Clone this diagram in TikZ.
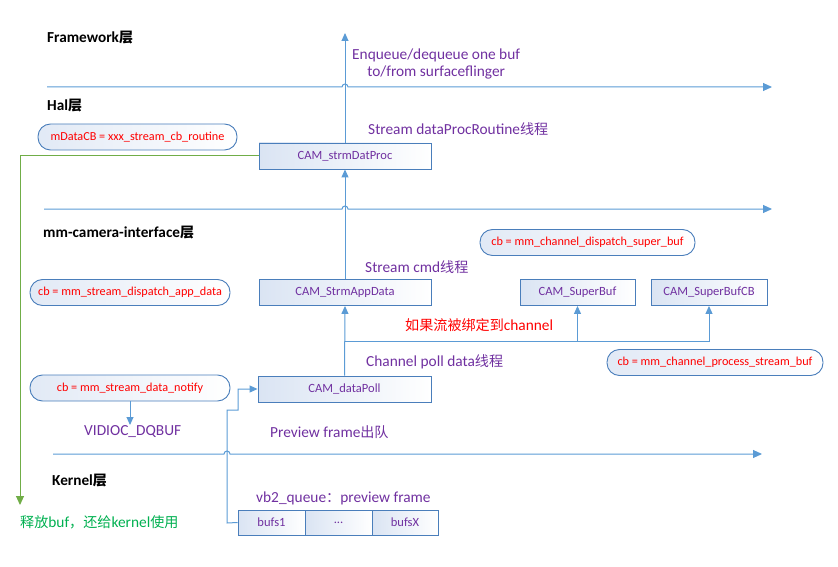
\documentclass[tikz,border=0pt]{standalone}
\usepackage{fontspec}
\setmainfont{Carlito}[Scale=1.09]
\newfontfamily\cjk{Noto Sans CJK SC}
\usetikzlibrary{arrows.meta}
\definecolor{boxblue}{RGB}{74,126,187}
\definecolor{arrowblue}{RGB}{91,155,213}
\definecolor{txtpurple}{RGB}{112,48,160}
\definecolor{lgreen}{RGB}{112,173,71}
\definecolor{tgreen}{RGB}{0,176,80}
\definecolor{shadeblue}{RGB}{218,228,243}
\tikzset{
  boxnode/.style={draw=boxblue, line width=0.9pt, left color=shadeblue, right color=white,
    minimum height=26pt, inner sep=0pt, text=txtpurple, font=\fontsize{11.5}{13}\selectfont},
  pill/.style={draw=boxblue, line width=0.9pt, left color=shadeblue!80, right color=white,
    rounded corners=12.5pt, minimum height=26pt, inner sep=0pt, text=red, font=\fontsize{11.2}{13}\selectfont},
  lbl/.style={anchor=west, inner sep=0pt, text=txtpurple, font=\fontsize{14.1}{17.5}\selectfont, align=center},
  layertitle/.style={anchor=west, inner sep=0pt, font=\bfseries\fontsize{14}{17}\selectfont},
  layerline/.style={draw=arrowblue, line width=1pt, -{Triangle[length=9pt,width=8pt]}},
  conn/.style={draw=arrowblue, line width=1pt, -{Triangle[length=8pt,width=7pt]}},
  plain/.style={draw=arrowblue, line width=1pt},
}
\begin{document}
\begin{tikzpicture}[x=1pt,y=-1pt]
\useasboundingbox (0,0) rectangle (838,567);

% layer titles
\node[layertitle] (fw) at (47,38) {Framework{\cjk 层}};
\node[layertitle] (hal) at (47,106) {Hal{\cjk 层}};
\node[layertitle] (mmci) at (43,233) {mm-camera-interface{\cjk 层}};
\node[layertitle] (kern) at (52,481) {Kernel{\cjk 层}};

% layer lines with hops
\draw[layerline] (47,87) -- (342,87) arc[start angle=180,end angle=0,radius=3pt] -- (772,87);
\draw[layerline] (44,209) -- (342,209) arc[start angle=180,end angle=0,radius=3pt] -- (772,209);
\draw[layerline] (53,454) -- (224,454) arc[start angle=180,end angle=0,radius=3pt] -- (762,454);

% boxes
\node[boxnode, minimum width=172pt] (dp) at (345,156) {CAM\_strmDatProc};
\node[boxnode, minimum width=172pt] (sad) at (345,292.5) {CAM\_StrmAppData};
\node[boxnode, minimum width=115pt] (sb) at (577.5,292.5) {CAM\_SuperBuf};
\node[boxnode, minimum width=116pt] (sbcb) at (709,292.5) {CAM\_SuperBufCB};
\node[boxnode, minimum width=173pt] (poll) at (344.5,389) {CAM\_dataPoll};
\node[boxnode, minimum width=67pt, minimum height=25pt] (b1) at (271.5,522.5) {bufs1};
\node[boxnode, minimum width=67pt, minimum height=25pt] (b2) at (338.5,522.5) {...};
\node[boxnode, minimum width=66pt, minimum height=25pt] (b3) at (405,522.5) {bufsX};

% pills
\node[pill, minimum width=199pt] (p1) at (137.5,137) {mDataCB = xxx\_stream\_cb\_routine};
\node[pill, minimum width=215pt] (p2) at (587.5,242.5) {cb = mm\_channel\_dispatch\_super\_buf};
\node[pill, minimum width=200pt] (p3) at (130,292.5) {cb = mm\_stream\_dispatch\_app\_data};
\node[pill, minimum width=216pt] (p4) at (715,362.5) {cb = mm\_channel\_process\_stream\_buf};
\node[pill, minimum width=200pt] (p5) at (130,388) {cb = mm\_stream\_data\_notify};

% labels
\node[lbl] (enq) at (352,64) {Enqueue/dequeue one buf\\to/from surfaceflinger};
\node[lbl] (sdp) at (368,129) {Stream dataProcRoutine{\cjk 线程}};
\node[lbl] (scmd) at (365,267) {Stream cmd{\cjk 线程}};
\node[lbl, text=red] (bind) at (405,325) {{\cjk 如果流被绑定到}channel};
\node[lbl] (cpoll) at (366,362) {Channel poll data{\cjk 线程}};
\node[lbl] (dq) at (84,432) {VIDIOC\_DQBUF};
\node[lbl] (pf) at (270,432) {Preview frame{\cjk 出队}};
\node[lbl] (vb2) at (256,498) {vb2\_queue{\cjk ：}preview frame};
\node[lbl, text=tgreen] (rel) at (20,522) {{\cjk 释放}buf{\cjk ，还给}kernel{\cjk 使用}};

% connectors
\coordinate (top) at (345,33);
\draw[conn] (dp.north) -- (top);
\draw[conn] (sad.north) -- (dp.south);
\draw[conn] (poll.north) -- (sad.south);
\coordinate (br) at (345,341);
\draw[plain] (br) -- (578,341);
\draw[conn] (br) -| (sb.south);
\draw[conn] (br) -| (sbcb.south);
\coordinate (dqend) at (130,425);
\draw[conn] (p5.south) -- (dqend);
\coordinate (e1) at (227,523);
\coordinate (e2) at (227,410);
\coordinate (e3) at (238,410);
\coordinate (e4) at (238,389);
\draw[conn] (b1.west) -- (e1) -- (e2) -- (e3) -- (e4) -- (poll.west);
\coordinate (g1) at (20,156);
\coordinate (g2) at (20,505);
\draw[draw=lgreen, line width=1pt, -{Triangle[length=9pt,width=8pt]}] (dp.west) -- (g1) -- (g2);
\end{tikzpicture}
\end{document}
